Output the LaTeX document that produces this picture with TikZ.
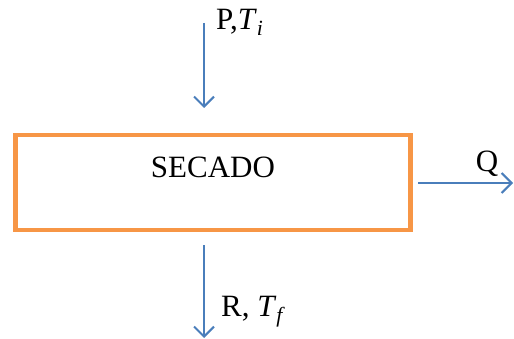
\documentclass[tikz,border=0pt]{standalone}
\usepackage{fontspec}
\setmainfont{Liberation Serif}
\usetikzlibrary{arrows.meta}
\definecolor{flujo}{RGB}{74,126,187}
\definecolor{naranja}{RGB}{247,150,70}
\newcommand{\temp}[1]{\textit{T}\textsubscript{\textit{#1}}}
\tikzset{
	proceso/.style={draw=naranja, line width=4.5pt, minimum width=395pt, minimum height=95pt},
	corriente/.style={draw=flujo, line width=2pt, -{Straight Barb[length=10pt,width=20pt,line width=2pt]}},
	etiqueta/.style={font=\fontsize{31}{34}\selectfont, inner sep=0pt}
}
\begin{document}
\begin{tikzpicture}[x=1pt, y=-1pt]
	\useasboundingbox (0,0) rectangle (514,339);

	% bloque de secado
	\node[proceso] (secado) at (213,182.5) {};
	\node[etiqueta] (nombre) at (213,167) {SECADO};

	% entradas y salidas
	\coordinate (entrada) at (204,23);
	\coordinate (alimento) at (204,108);
	\draw[corriente] (entrada) -- (alimento);
	\node[etiqueta, anchor=base west] (pti) at (216,30) {P,\temp{i}};

	\coordinate (salida) at (204,245);
	\coordinate (producto) at (204,338);
	\draw[corriente] (salida) -- (producto);
	\node[etiqueta, anchor=base west] (rtf) at (221,316) {R, \temp{f}};

	\coordinate (vapor) at (418,183);
	\coordinate (fuera) at (513,183);
	\draw[corriente] (vapor) -- (fuera);
	\node[etiqueta] (q) at (487,164) {Q};
\end{tikzpicture}
\end{document}
